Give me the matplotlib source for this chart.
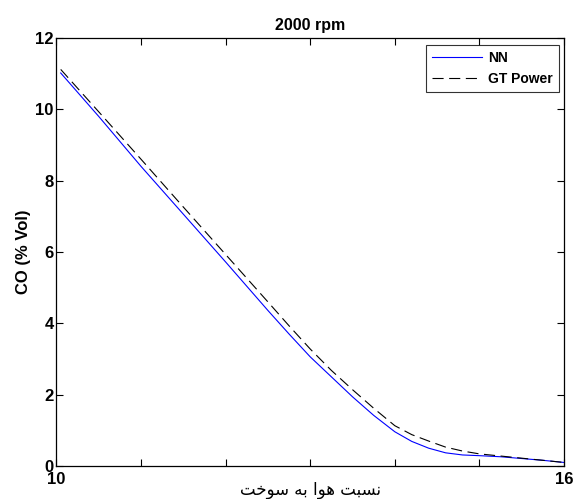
import numpy as np
import matplotlib
matplotlib.use("Agg")
import matplotlib.pyplot as plt

# ── DATA ──────────────────────────────────────────────────────────────────────
afr = [10.05, 10.5, 11.0, 11.5, 12.0, 12.5, 12.75, 13.0, 13.25, 13.5, 13.75,
       14.0, 14.2, 14.4, 14.6, 14.8, 15.0, 15.25, 15.5, 15.75, 16.0]
co_nn = [11.02, 9.80, 8.40, 7.06, 5.72, 4.36, 3.70, 3.06, 2.50, 1.94, 1.42,
         0.96, 0.69, 0.50, 0.37, 0.31, 0.29, 0.26, 0.21, 0.16, 0.10]
co_gt = [11.12, 9.93, 8.60, 7.26, 5.93, 4.60, 3.93, 3.28, 2.68, 2.14, 1.62,
         1.13, 0.88, 0.70, 0.53, 0.42, 0.34, 0.28, 0.22, 0.16, 0.10]

x_ticks = [10, 11, 12, 13, 14, 15, 16]
x_ticklabels = ["10", "", "", "", "", "", "16"]
y_ticks = [0, 2, 4, 6, 8, 10, 12]

# Persian x label, pre-shaped (presentation forms, visual order): "نسبت هوا به سوخت"
xlabel_fa = "\uFE96\uFEA7\uFEEE\uFEB3 \uFEEA\uFE91 \uFE8D\uFEEE\uFEEB \uFE96\uFE92\uFEB4\uFEE7"

# ── STYLE ─────────────────────────────────────────────────────────────────────
plt.rcParams["font.family"] = ["Liberation Sans", "DejaVu Sans"]
plt.rcParams["lines.scale_dashes"] = False

fig = plt.figure(figsize=(5.74, 4.99), dpi=100)
ax = fig.add_axes([0.0984, 0.0661, 0.8842, 0.8577])

ax.plot(afr, co_nn, color="#0000ff", lw=0.8, label="NN")
ax.plot(afr, co_gt, color="black", lw=0.8, dashes=(8, 4), label="GT Power")

ax.set_xlim(10, 16)
ax.set_ylim(0, 12)
ax.set_xticks(x_ticks)
ax.set_xticklabels(x_ticklabels)
ax.set_yticks(y_ticks)

ax.tick_params(direction="in", top=True, right=True, length=5, width=0.8,
               labelsize=12, pad=2)
ax.tick_params(axis="x", pad=4)
for lbl in ax.get_xticklabels() + ax.get_yticklabels():
    lbl.set_fontweight("bold")
for sp in ax.spines.values():
    sp.set_linewidth(0.9)

ax.set_title("2000 rpm", fontsize=11.5, fontweight="bold", pad=6)
ax.set_ylabel("CO (% Vol)", fontsize=12, fontweight="bold", labelpad=3)
ax.set_xlabel(xlabel_fa, fontsize=12, family=["DejaVu Sans", "Noto Sans"])
ax.xaxis.set_label_coords(0.5, -0.036)

leg = ax.legend(loc="upper right", bbox_to_anchor=(0.99, 0.984),
                prop={"weight": "bold", "size": 10},
                frameon=True, fancybox=False, edgecolor="black",
                borderaxespad=0.0, handlelength=3.6, handletextpad=0.4,
                labelspacing=0.5, borderpad=0.45)
leg.get_frame().set_linewidth(0.8)

fig.savefig("out.png", dpi=100)
